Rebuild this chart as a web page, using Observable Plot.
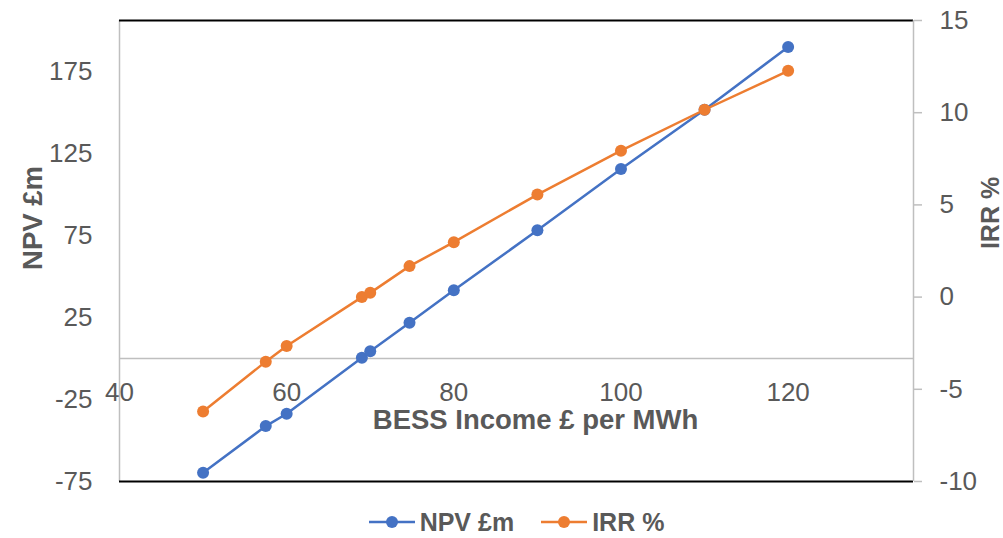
<!DOCTYPE html>
<html>
<head>
<meta charset="utf-8">
<script src="https://cdn.jsdelivr.net/npm/d3@7"></script>
<script src="https://cdn.jsdelivr.net/npm/@observablehq/plot@0.6"></script>
<style>
  html, body { margin: 0; padding: 0; background: #fff; }
  #chart { width: 1003px; }
  .legend { display: flex; justify-content: center; align-items: center; gap: 27px; margin-top: 8px; margin-left: 30px;
            font: bold 25px "Liberation Sans", Arial, sans-serif; color: #595959; height: 28px; }
  .legend .item { display: flex; align-items: center; gap: 5px; }
</style>
</head>
<body>
<div id="chart"></div>
<script>
// BESS income (£ per MWh) against project NPV (£m) and IRR (%)
const income = [50, 57.5, 60, 69, 70, 74.7, 80, 90, 100, 110, 120];
const npv = [-69.7, -41.2, -33.7, 0.4, 4.4, 21.7, 41.6, 78.1, 115.5, 151.6, 189.8];
const irr = [-6.2, -3.5, -2.65, 0.0, 0.23, 1.68, 2.98, 5.56, 7.94, 10.16, 12.27];

const xTicks = [40, 60, 80, 100, 120];
const npvTicks = [-75, -25, 25, 75, 125, 175];
const irrTicks = [-10, -5, 0, 5, 10, 15];

const xDomain = [40, 135];
const npvDomain = [-75, 206];
const irrDomain = [-10, 15];

const seriesColors = {"NPV £m": "#4472c4", "IRR %": "#ed7d31"};

// IRR shares the plot with NPV: map IRR onto the NPV axis range and back
const irrToNpv = v => npvDomain[0] + (v - irrDomain[0]) / (irrDomain[1] - irrDomain[0]) * (npvDomain[1] - npvDomain[0]);
const npvToIrr = v => irrDomain[0] + (v - npvDomain[0]) / (npvDomain[1] - npvDomain[0]) * (irrDomain[1] - irrDomain[0]);

const npvRows = income.map((x, i) => ({x, y: npv[i]}));
const irrRows = income.map((x, i) => ({x, y: irrToNpv(irr[i])}));

const font = '"Liberation Sans", Arial, sans-serif';
const grey = "#595959";
const lineGrey = "#bfbfbf";
const tickFont = 26;

const chart = Plot.plot({
  width: 1003,
  height: 500,
  marginTop: 20,
  marginBottom: 19,
  marginLeft: 119,
  marginRight: 90,
  style: {fontFamily: font, fontSize: "25px", color: grey, background: "#fff"},
  x: {domain: xDomain, axis: null},
  y: {domain: npvDomain, axis: null},
  marks: [
    // plot borders
    Plot.ruleX([xDomain[0]], {stroke: lineGrey, strokeWidth: 1.5}),
    Plot.ruleY([npvDomain[1], npvDomain[0]], {stroke: "#000", strokeWidth: 2}),
    // horizontal axis along NPV = 0
    Plot.ruleY([0], {stroke: lineGrey, strokeWidth: 1.5}),
    Plot.text(xTicks, {x: d => d, y: 0, dy: 34, text: d => String(d), fill: grey, fontSize: tickFont}),
    // left NPV axis
    Plot.axisY(npvTicks, {anchor: "left", tickSize: 0, tickPadding: 27, label: null, fill: grey, fontSize: tickFont,
      tickFormat: d => String(d)}),
    // right IRR axis
    Plot.axisY(irrTicks.map(irrToNpv), {
      anchor: "right", tickSize: 8, tickPadding: 18, label: null,
      stroke: lineGrey, strokeWidth: 1.5, fill: grey, fontSize: tickFont,
      tickFormat: d => String(Math.round(npvToIrr(d)))
    }),
    Plot.ruleX([xDomain[1]], {stroke: lineGrey, strokeWidth: 1.5}),
    // series
    Plot.line(npvRows, {x: "x", y: "y", stroke: seriesColors["NPV £m"], strokeWidth: 2.5}),
    Plot.dot(npvRows, {x: "x", y: "y", r: 6, fill: seriesColors["NPV £m"]}),
    Plot.line(irrRows, {x: "x", y: "y", stroke: seriesColors["IRR %"], strokeWidth: 2.5}),
    Plot.dot(irrRows, {x: "x", y: "y", r: 6, fill: seriesColors["IRR %"]}),
    // axis titles
    Plot.text(["BESS Income £ per MWh"], {frameAnchor: "top-left", dx: 416, dy: 400, text: d => d,
      textAnchor: "middle", lineAnchor: "middle", fill: grey, fontWeight: "bold", fontSize: 27.5}),
    Plot.text(["NPV £m"], {frameAnchor: "left", dx: -86, dy: -33, rotate: -90, text: d => d,
      textAnchor: "middle", lineAnchor: "middle", fill: grey, fontWeight: "bold", fontSize: 27.5}),
    Plot.text(["IRR %"], {frameAnchor: "right", dx: 77, dy: -38, rotate: -90, text: d => d,
      textAnchor: "middle", lineAnchor: "middle", fill: grey, fontWeight: "bold", fontSize: 25})
  ]
});

const root = document.getElementById("chart");
root.appendChild(chart);

// legend below the chart
const legend = document.createElement("div");
legend.className = "legend";
for (const [name, color] of Object.entries(seriesColors)) {
  const item = document.createElement("div");
  item.className = "item";
  item.innerHTML = `<svg width="46" height="14"><line x1="0" x2="46" y1="7" y2="7" stroke="${color}" stroke-width="2.5"/><circle cx="23" cy="7" r="6" fill="${color}"/></svg><span>${name}</span>`;
  legend.appendChild(item);
}
root.appendChild(legend);
</script>
</body>
</html>
